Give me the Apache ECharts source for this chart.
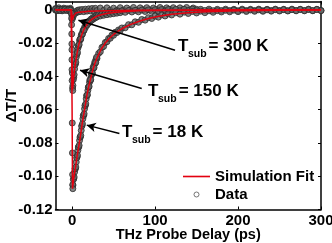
<!DOCTYPE html>
<html><head><meta charset="utf-8">
<script src="https://cdn.jsdelivr.net/npm/echarts@6/dist/echarts.min.js"></script>
<style>html,body{margin:0;padding:0;background:#fff}#c{width:332px;height:243px}</style>
</head><body><div id="c"></div>
<script>
// ---------- DATA ----------
const xTicks = [0, 100, 200, 300];
const yTicks = [-0.12, -0.10, -0.08, -0.06, -0.04, -0.02, 0];
const xTitle = 'THz Probe Delay (ps)';
const yTitle = 'ΔT/T';

// shared time grid for 18 K and 150 K data (ps)
const dataT = [-20,-18,-16,-14,-12,-10,-8,-6,-4,-2,
  1,2,3,4,5,6,7,8,9,10,11,12,13,14,15,16,17,18,19,20,21,22,23,24,25,26,27,28,29,30,
  32,34,36,38,40,42,44,46,48,50,52,54,56,58,60,
  64,68,72,76,80,84,88,92,96,100,104,108,112,116,120,
  125,130,135,140,145,150,155,160,165,170,175,180,185,190,195,200,205,210,215,220,225,230,235,240,245,250,255,260,265,270,275,280,285,290,295,300];

const data18V = [0.0004,-0.0003,0.0002,-0.0004,0.0003,-0.0002,0.0004,-0.0003,0.0001,-0.0002,
  -0.1055,-0.1015,-0.0975,-0.0955,-0.0915,-0.0885,-0.0845,-0.0825,-0.0785,-0.0765,-0.0725,-0.0695,-0.0655,-0.0635,-0.0595,-0.0575,-0.0535,-0.0515,-0.0485,-0.0465,-0.0435,-0.0425,-0.0395,-0.0385,-0.0355,-0.0350,-0.0325,-0.0320,-0.0295,-0.0292,
  -0.0262,-0.0252,-0.0226,-0.0220,-0.0196,-0.0192,-0.0172,-0.0171,-0.0152,-0.0153,-0.0135,-0.0137,-0.0121,-0.0125,-0.0109,
  -0.0108,-0.0089,-0.0090,-0.0072,-0.0075,-0.0058,-0.0062,-0.0047,-0.0052,-0.0038,-0.0044,-0.0030,-0.0037,-0.0024,-0.0031,
  -0.0018,-0.0026,-0.0014,-0.0022,-0.0010,-0.0019,-0.0008,-0.0017,-0.0006,-0.0015,-0.0005,-0.0013,-0.0003,-0.0012,-0.0002,-0.0011,-0.0001,-0.0010,-0.0001,-0.0009,0.0000,-0.0009,0.0000,-0.0008,0.0001,-0.0007,0.0001,-0.0007,0.0001,-0.0006,0.0002,-0.0006,0.0002,-0.0005,0.0002,-0.0005];

const data150V = [-0.0002,0.0003,-0.0004,0.0002,-0.0001,0.0004,-0.0003,0.0002,-0.0004,0.0003,
  -0.0455,-0.0405,-0.0355,-0.0325,-0.0285,-0.0265,-0.0230,-0.0215,-0.0185,-0.0180,-0.0155,-0.0150,-0.0128,-0.0126,-0.0105,-0.0107,-0.0089,-0.0092,-0.0076,-0.0080,-0.0065,-0.0070,-0.0055,-0.0061,-0.0047,-0.0054,-0.0041,-0.0048,-0.0035,-0.0043,
  -0.0030,-0.0037,-0.0025,-0.0033,-0.0021,-0.0029,-0.0017,-0.0026,-0.0014,-0.0023,-0.0011,-0.0020,-0.0009,-0.0017,-0.0006,
  -0.0015,-0.0004,-0.0013,-0.0003,-0.0012,-0.0001,-0.0010,0.0000,-0.0009,0.0001,-0.0008,0.0002,-0.0007,0.0002,-0.0007,
  0.0003,-0.0006,0.0003,-0.0005,0.0004,-0.0005,0.0003,-0.0004,0.0004,-0.0005,0.0003,-0.0004,0.0004,-0.0004,0.0003,-0.0005,0.0004,-0.0004,0.0003,-0.0004,0.0004,-0.0005,0.0003,-0.0004,0.0004,-0.0004,0.0003,-0.0005,0.0004,-0.0004,0.0003,-0.0004,0.0004,-0.0005,0.0003,-0.0004];

// extra half-step samples on the steep parts
const half18T = [1.5,2.5,3.5,4.5,5.5,6.5,7.5,8.5,9.5,10.5,11.5,12.5,13.5,14.5,15.5,16.5,17.5,18.5,19.5,20.5,21.5,22.5,23.5,24.5,25.5,26.5,27.5,28.5,29.5];
const half18V = [-0.1020,-0.1005,-0.0955,-0.0945,-0.0890,-0.0875,-0.0825,-0.0815,-0.0765,-0.0755,-0.0700,-0.0685,-0.0635,-0.0625,-0.0575,-0.0565,-0.0515,-0.0510,-0.0465,-0.0460,-0.0420,-0.0420,-0.0380,-0.0380,-0.0342,-0.0347,-0.0312,-0.0317,-0.0285];
const half150T = [1.5,2.5,3.5,4.5,5.5,6.5,7.5,8.5,9.5,10.5,11.5,12.5,13.5,14.5];
const half150V = [-0.0420,-0.0390,-0.0330,-0.0315,-0.0268,-0.0256,-0.0215,-0.0208,-0.0176,-0.0174,-0.0146,-0.0145,-0.0121,-0.0122];

// fast-rise points near t = 0
const rise18T = [-0.8,-0.6,-0.4,-0.3,-0.2,-0.1,0,0.2,0.4,0.6,0.8,0.9];
const rise18V = [-0.002,-0.009,-0.0145,-0.0205,-0.030,-0.036,-0.0425,-0.068,-0.086,-0.099,-0.105,-0.1075];
const rise150T = [-0.5,-0.2,0.3,0.6,0.8];
const rise150V = [-0.005,-0.024,-0.038,-0.047,-0.0485];

// 300 K data
const data300T = [-20,-18,-16,-14,-12,-10,-8,-6,-4,-2,-0.4,0,
  1,2,3,4,5,6,7,8,9,10,12,14,16,18,20,22,24,26,28,30,
  34,38,42,46,50,54,58,62,66,70,74,78,82,86,90,94,98,102,106,110,114,118,122,126,130,134,138,142,146,150];
const data300V = [0.0008,-0.0004,0.0012,0.0002,-0.0006,0.0010,0.0000,0.0007,-0.0005,0.0009,-0.003,-0.0058,
  -0.0045,-0.0030,-0.0018,-0.0020,-0.0008,-0.0014,-0.0002,-0.0012,0.0000,-0.0010,0.0002,-0.0011,0.0004,-0.0008,0.0006,-0.0007,0.0008,-0.0005,0.0009,-0.0004,
  0.0011,-0.0003,0.0012,-0.0002,0.0010,-0.0003,0.0013,-0.0001,0.0011,0.0000,0.0014,-0.0002,0.0012,0.0001,0.0013,-0.0001,0.0011,0.0002,0.0014,0.0000,0.0012,0.0003,0.0013,0.0001,0.0012,0.0002,0.0014,0.0000,0.0011,0.0003];

// simulation fits
const fit18T = [-20,-1,0,0.5,2,4,6,8,10,12,14,16,18,20,22,25,28,30,35,40,45,50,55,60,70,80,90,100,110,120,140,160,180,200,250,300];
const fit18V = [0,0,-0.06,-0.1075,-0.101,-0.095,-0.088,-0.082,-0.076,-0.069,-0.063,-0.057,-0.051,-0.046,-0.042,-0.036,-0.0315,-0.029,-0.0237,-0.020,-0.0171,-0.0148,-0.0129,-0.0114,-0.0089,-0.0070,-0.0055,-0.0043,-0.0034,-0.0026,-0.0017,-0.0012,-0.0008,-0.0005,-0.0002,-0.0001];
const fit150T = [-20,-1,0,0.5,1,2,3,4,5,6,7,8,10,12,14,16,18,20,23,26,30,35,40,50,60,80,100,150,200,300];
const fit150V = [0,0,-0.03,-0.048,-0.046,-0.040,-0.036,-0.032,-0.029,-0.026,-0.0235,-0.021,-0.0175,-0.0145,-0.0121,-0.0102,-0.0087,-0.0075,-0.006,-0.0049,-0.0038,-0.003,-0.0024,-0.0016,-0.0011,-0.0006,-0.0004,-0.0002,-0.0001,0];
const fit300T = [-20,-1,0,0.3,1,2,3,4,5,6,8,10,15,20,30,40,60,80,100,150,200,300];
const fit300V = [0,0,-0.004,-0.0063,-0.0052,-0.0035,-0.0026,-0.0021,-0.0018,-0.0016,-0.0014,-0.0013,-0.0011,-0.0009,-0.0007,-0.0005,-0.0004,-0.0003,-0.0002,-0.0001,0,0];

// annotations (data coords)
const annoLabels = ['300 K', '150 K', '18 K'];
const annoT = [127.7, 91.6, 60.2];
const annoV = [-0.0219, -0.0489, -0.0735];
const arrowTail = [[124.1, -0.0243], [83.9, -0.0473], [57.0, -0.0743]];
const arrowHead = [[7.6, -0.0063], [9.6, -0.0363], [17.7, -0.0693]];

// ---------- CHART ----------
const F = 'Liberation Sans, Arial, Helvetica, sans-serif';
const pairs = (ts, vs) => ts.map((t, i) => [t, vs[i]]);
const chart = echarts.init(document.getElementById('c'), null, {renderer: 'canvas'});

const dataStyle = {color: '#666666', borderColor: '#2b2b2b', borderWidth: 1};
const RED = '#e3000f';
const scatter = (d) => ({type: 'scatter', name: 'Data', data: d, symbol: 'circle', symbolSize: 6, itemStyle: dataStyle, z: 2, silent: true});
const fitLine = (d, extra) => Object.assign({type: 'line', name: 'Simulation Fit', data: d, symbol: 'none', showSymbol: false,
  lineStyle: {color: RED, width: 1.5}, itemStyle: {color: RED}, z: 3, silent: true}, extra || {});

const axisLineStyle = {color: '#000', width: 1.5};
const lbl = {color: '#000', fontSize: 15, fontWeight: 'bold', fontFamily: F};
const GRID = {left: 55.5, right: 11, top: 1.5, bottom: 33.5};

chart.setOption({
  animation: false,
  backgroundColor: '#fff',
  grid: Object.assign({containLabel: false, outerBoundsMode: 'none'}, GRID),
  legend: {
    orient: 'vertical', left: 183, top: 169, itemWidth: 27, itemHeight: 5, itemGap: 3, padding: 0,
    textStyle: {color: '#000', fontSize: 15, fontWeight: 'bold', fontFamily: F},
    data: [
      {name: 'Simulation Fit', icon: 'path://M0 0H100V6H0Z', itemStyle: {color: RED}},
      {name: 'Data', icon: 'circle', itemStyle: {color: '#fff', borderColor: '#555', borderWidth: 1}}
    ]
  },
  xAxis: [{
    type: 'value', min: -20, max: 300, position: 'bottom',
    axisLine: {show: true, onZero: false, lineStyle: axisLineStyle},
    axisTick: {show: true, inside: true, length: 3, customValues: xTicks, lineStyle: {color: '#000', width: 1}},
    axisLabel: Object.assign({customValues: xTicks, margin: 4}, lbl),
    splitLine: {show: false}
  }, {
    type: 'value', min: -20, max: 300, position: 'top',
    axisLine: {show: true, onZero: false, lineStyle: axisLineStyle},
    axisTick: {show: true, inside: true, length: 3, customValues: xTicks, lineStyle: {color: '#000', width: 1}},
    axisLabel: {show: false}, splitLine: {show: false}
  }],
  yAxis: [{
    type: 'value', min: -0.12, max: 0.005, position: 'left',
    axisLine: {show: true, onZero: false, lineStyle: axisLineStyle},
    axisTick: {show: true, inside: true, length: 3, customValues: yTicks, lineStyle: {color: '#000', width: 1}},
    axisLabel: Object.assign({customValues: yTicks, margin: 3, formatter: v => Math.abs(v) < 1e-9 ? '0' : v.toFixed(2)}, lbl),
    splitLine: {show: false}
  }, {
    type: 'value', min: -0.12, max: 0.005, position: 'right',
    axisLine: {show: true, onZero: false, lineStyle: axisLineStyle},
    axisTick: {show: true, inside: true, length: 3, customValues: yTicks, lineStyle: {color: '#000', width: 1}},
    axisLabel: {show: false}, splitLine: {show: false}
  }],
  series: [
    scatter(pairs(data300T, data300V)),
    scatter(pairs(dataT, data150V).concat(pairs(half150T, half150V), pairs(rise150T, rise150V))),
    scatter(pairs(dataT, data18V).concat(pairs(half18T, half18V), pairs(rise18T, rise18V))),
    fitLine(pairs(fit300T, fit300V)),
    fitLine(pairs(fit150T, fit150V)),
    fitLine(pairs(fit18T, fit18V), {
      markLine: {
        silent: true, animation: false, symbol: ['none', 'arrow'], symbolSize: [7, 9],
        lineStyle: {color: '#000', width: 1.5, type: 'solid'}, label: {show: false},
        data: arrowTail.map((t, i) => [{coord: t}, {coord: arrowHead[i]}])
      }
    })
  ]
});

// titles and annotation texts placed from the grid / data coords
const W = chart.getWidth(), H = chart.getHeight();
const gx0 = GRID.left, gx1 = W - GRID.right, gy0 = GRID.top, gy1 = H - GRID.bottom;
const cv = document.createElement('canvas').getContext('2d');
const bigFont = 'bold 17px ' + F, subFont = 'bold 10.5px ' + F;
const gfx = [
  {type: 'text', x: (gx0 + gx1) / 2, y: gy1 + 25, z: 10,
   style: {text: xTitle, font: 'bold 14.5px ' + F, fill: '#000', align: 'center', verticalAlign: 'middle'}},
  {type: 'text', x: 12, y: (gy0 + gy1) / 2, rotation: Math.PI / 2, z: 10,
   style: {text: yTitle, font: 'bold 15px ' + F, fill: '#000', align: 'center', verticalAlign: 'middle'}}
];
annoLabels.forEach((lab, i) => {
  const p = chart.convertToPixel({xAxisIndex: 0, yAxisIndex: 0}, [annoT[i], annoV[i]]);
  cv.font = bigFont; const wT = cv.measureText('T').width;
  cv.font = subFont; const wS = cv.measureText('sub').width;
  gfx.push({type: 'text', x: p[0], y: p[1], z: 10, style: {text: 'T', font: bigFont, fill: '#000', align: 'left', verticalAlign: 'middle'}});
  gfx.push({type: 'text', x: p[0] + wT - 0.5, y: p[1] + 8, z: 10, style: {text: 'sub', font: subFont, fill: '#000', align: 'left', verticalAlign: 'middle'}});
  gfx.push({type: 'text', x: p[0] + wT + wS + 1.5, y: p[1], z: 10, style: {text: '= ' + lab, font: bigFont, fill: '#000', align: 'left', verticalAlign: 'middle'}});
});
chart.setOption({graphic: gfx});
</script></body></html>
